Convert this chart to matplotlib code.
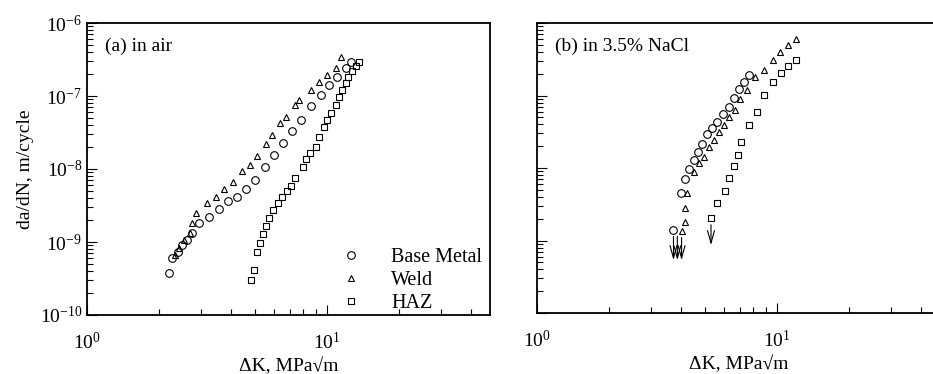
import matplotlib
matplotlib.use("Agg")
import matplotlib.pyplot as plt
from matplotlib.ticker import FixedLocator, LogFormatterMathtext, NullFormatter

plt.rcParams['font.family'] = ['Liberation Serif', 'DejaVu Serif']
plt.rcParams['mathtext.fontset'] = 'custom'
plt.rcParams['mathtext.rm'] = 'Liberation Serif'

# (a) in air
air_base_dk = [2.19, 2.27, 2.39, 2.50, 2.62, 2.75, 2.92, 3.24, 3.56, 3.88, 4.23, 4.61, 5.03,
               5.53, 6.03, 6.57, 7.16, 7.80, 8.58, 9.44, 10.2, 11.0, 12.0, 12.6]
air_base_rate = [3.76e-10, 6.0e-10, 7.3e-10, 9.1e-10, 1.06e-9, 1.33e-9, 1.82e-9, 2.2e-9, 2.83e-9,
                 3.65e-9, 4.13e-9, 5.3e-9, 7.1e-9, 1.06e-8, 1.56e-8, 2.27e-8, 3.3e-8, 4.7e-8,
                 7.3e-8, 1.03e-7, 1.42e-7, 1.82e-7, 2.42e-7, 2.92e-7]

air_weld_dk = [2.32, 2.43, 2.55, 2.68, 2.75, 2.86, 3.18, 3.46, 3.74, 4.07, 4.44, 4.79, 5.13,
               5.58, 5.91, 6.38, 6.76, 7.37, 7.65, 8.58, 9.26, 10.0, 10.9, 11.5]
air_weld_rate = [6.64e-10, 8.3e-10, 1.06e-9, 1.33e-9, 1.82e-9, 2.5e-9, 3.42e-9, 4.13e-9, 5.3e-9,
                 6.6e-9, 9.4e-9, 1.14e-8, 1.51e-8, 2.2e-8, 2.92e-8, 4.27e-8, 5.15e-8, 7.5e-8,
                 8.8e-8, 1.21e-7, 1.56e-7, 1.94e-7, 2.42e-7, 3.42e-7]

air_haz_dk = [4.84, 4.98, 5.13, 5.27, 5.43, 5.58, 5.75, 5.97, 6.26, 6.51, 6.82, 7.09, 7.37,
              7.95, 8.18, 8.50, 9.00, 9.26, 9.72, 10.0, 10.4, 10.9, 11.2, 11.6, 12.0, 12.3,
              12.7, 13.2, 13.6]
air_haz_rate = [3.02e-10, 4.13e-10, 7.3e-10, 9.7e-10, 1.29e-9, 1.66e-9, 2.13e-9, 2.74e-9,
                3.42e-9, 4.13e-9, 5.0e-9, 5.85e-9, 7.5e-9, 1.06e-8, 1.37e-8, 1.66e-8, 2.0e-8,
                2.74e-8, 3.76e-8, 4.7e-8, 5.85e-8, 7.5e-8, 9.7e-8, 1.21e-7, 1.51e-7, 1.82e-7,
                2.2e-7, 2.58e-7, 2.9e-7]

# (b) in 3.5% NaCl
nacl_base_dk = [3.71, 3.97, 4.13, 4.29, 4.51, 4.69, 4.87, 5.11, 5.37, 5.64, 5.98, 6.33, 6.65,
                6.98, 7.33, 7.69]
nacl_base_rate = [1.40e-9, 4.52e-9, 7.05e-9, 9.7e-9, 1.29e-8, 1.66e-8, 2.14e-8, 2.94e-8,
                  3.56e-8, 4.31e-8, 5.56e-8, 6.94e-8, 9.25e-8, 1.23e-7, 1.53e-7, 1.92e-7]

nacl_weld_dk = [4.01, 4.13, 4.13, 4.21, 4.51, 4.73, 4.97, 5.22, 5.47, 5.75, 6.03, 6.33, 6.71,
                7.05, 7.55, 8.15, 8.89, 9.61, 10.3, 11.1, 12.0]
nacl_weld_rate = [1.35e-9, 1.80e-9, 2.81e-9, 4.52e-9, 8.8e-9, 1.17e-8, 1.42e-8, 1.95e-8,
                  2.43e-8, 3.14e-8, 3.92e-8, 5.05e-8, 6.3e-8, 8.95e-8, 1.19e-7, 1.80e-7,
                  2.25e-7, 3.09e-7, 3.98e-7, 4.98e-7, 6.0e-7]

nacl_haz_dk = [5.32, 5.64, 6.09, 6.33, 6.65, 6.91, 7.11, 7.69, 8.24, 8.89, 9.61, 10.4, 11.1, 12.0]
nacl_haz_rate = [2.04e-9, 3.29e-9, 4.82e-9, 7.28e-9, 1.07e-8, 1.51e-8, 2.28e-8, 3.92e-8,
                 5.92e-8, 1.02e-7, 1.53e-7, 2.04e-7, 2.55e-7, 3.09e-7]

# threshold arrows (run-out), start / end in rate
arrow_dk = [3.71, 3.85, 4.01, 5.32]
arrow_top = [1.25e-9, 1.25e-9, 1.2e-9, 1.8e-9]
arrow_bottom = [4.9e-10, 4.9e-10, 4.9e-10, 7.9e-10]

x_major = [1, 10]
x_minor = [m * d for d in (1, 10) for m in range(2, 10)] + [20, 30, 40]
y_major = [1e-10, 1e-9, 1e-8, 1e-7, 1e-6]
y_minor = [m * d for d in (1e-10, 1e-9, 1e-8, 1e-7) for m in range(2, 10)]

marker_kw = dict(linestyle='none', markerfacecolor='none', markeredgecolor='black',
                 markeredgewidth=0.8)


def style_axes(ax, show_ylabels):
    ax.set_xscale('log')
    ax.set_yscale('log')
    ax.set_xlim(1, 48)
    ax.set_ylim(1e-10, 1e-6)
    ax.xaxis.set_major_locator(FixedLocator(x_major))
    ax.xaxis.set_minor_locator(FixedLocator(sorted(set(x_minor))))
    ax.yaxis.set_major_locator(FixedLocator(y_major))
    ax.yaxis.set_minor_locator(FixedLocator(y_minor))
    ax.xaxis.set_major_formatter(LogFormatterMathtext())
    ax.xaxis.set_minor_formatter(NullFormatter())
    ax.yaxis.set_minor_formatter(NullFormatter())
    ax.tick_params(which='both', direction='in', top=False, right=False, labelsize=14,
                   width=0.8)
    ax.tick_params(which='major', length=7)
    ax.tick_params(which='minor', length=4)
    ax.tick_params(axis='x', pad=12)
    if show_ylabels:
        ax.yaxis.set_major_formatter(LogFormatterMathtext())
    else:
        ax.yaxis.set_major_formatter(NullFormatter())
    for s in ax.spines.values():
        s.set_linewidth(1.3)
    ax.set_xlabel('ΔK, MPa√m', fontsize=14, labelpad=3)


fig = plt.figure(figsize=(9.33, 3.74), dpi=100)
ax1 = fig.add_axes([87 / 933, 59 / 374, 403 / 933, 292 / 374])
ax2 = fig.add_axes([537 / 933, 61 / 374, 403 / 933, 290 / 374])

ax1.plot(air_base_dk, air_base_rate, marker='o', markersize=5.5, label='Base Metal', **marker_kw)
ax1.plot(air_weld_dk, air_weld_rate, marker='^', markersize=4.5, label='Weld', **marker_kw)
ax1.plot(air_haz_dk, air_haz_rate, marker='s', markersize=5, label='HAZ', **marker_kw)
style_axes(ax1, True)
ax1.set_ylabel('da/dN, m/cycle', fontsize=14, labelpad=4)
ax1.text(0.045, 0.92, '(a) in air', transform=ax1.transAxes, fontsize=14, va='center')
ax1.legend(loc='lower right', bbox_to_anchor=(1.01, -0.035), frameon=False, fontsize=14.5,
           handletextpad=1.5, labelspacing=0.2, handlelength=1.0, borderaxespad=0.2)

ax2.plot(nacl_base_dk, nacl_base_rate, marker='o', markersize=5.5, **marker_kw)
ax2.plot(nacl_weld_dk, nacl_weld_rate, marker='^', markersize=4.5, **marker_kw)
ax2.plot(nacl_haz_dk, nacl_haz_rate, marker='s', markersize=5, **marker_kw)
for dk, top, bot in zip(arrow_dk, arrow_top, arrow_bottom):
    ax2.annotate('', xy=(dk, bot), xytext=(dk, top),
                 arrowprops=dict(arrowstyle='->,head_length=0.9,head_width=0.25',
                                 color='black', lw=0.8))
style_axes(ax2, False)
ax2.text(0.045, 0.92, '(b) in 3.5% NaCl', transform=ax2.transAxes, fontsize=14, va='center')

fig.savefig('out.png', dpi=100)
